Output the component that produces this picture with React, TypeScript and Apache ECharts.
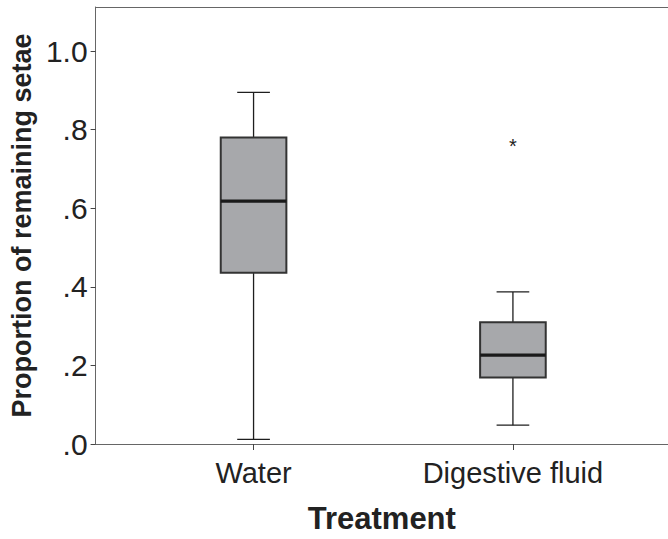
import React, { useEffect, useRef } from "react";
import * as echarts from "echarts";

const categories = ["Water", "Digestive fluid"];
const categoryPositions = [1, 2];
// [position, lower whisker, Q1, median, Q3, upper whisker]
const boxValues = [
  [1, 0.012, 0.436, 0.618, 0.78, 0.895],
  [2, 0.048, 0.169, 0.226, 0.31, 0.387],
];
const outliers = [[2, 0.765]];
const yTickValues = [0, 0.2, 0.4, 0.6, 0.8, 1.0];
const yTickLabels = [".0", ".2", ".4", ".6", ".8", "1.0"];

const FONT = "'Liberation Sans', Arial, sans-serif";
const X_MIN = 0.391;
const X_MAX = 0.391 + 576 / 261;

export default function App() {
  const ref = useRef<HTMLDivElement>(null);
  useEffect(() => {
    if (!ref.current) return;
    const chart = echarts.init(ref.current, undefined, { renderer: "svg" });
    const boxW = 0.253;
    const capW = 0.126;
    chart.setOption({
      animation: false,
      backgroundColor: "#ffffff",
      grid: {
        left: 92,
        right: 0,
        top: 7,
        bottom: 90,
        show: false,
      },
      xAxis: [
        {
          type: "value",
          min: X_MIN,
          max: X_MAX,
          name: "Treatment",
          nameLocation: "middle",
          nameGap: 59,
          nameTextStyle: { fontFamily: FONT, fontSize: 31, fontWeight: "bold", color: "#222" },
          splitLine: { show: false },
          axisLine: { show: true, lineStyle: { color: "#666", width: 1 } },
          axisTick: { show: true, length: 6, customValues: categoryPositions, lineStyle: { color: "#444" } },
          axisLabel: {
            customValues: categoryPositions,
            formatter: (v: number) => categories[categoryPositions.indexOf(Math.round(v))] ?? "",
            fontFamily: FONT,
            fontSize: 29,
            color: "#222",
            margin: 14,
          },
        },
        {
          type: "value",
          position: "top",
          min: X_MIN,
          max: X_MAX,
          splitLine: { show: false },
          axisLine: { show: true, lineStyle: { color: "#666", width: 1 } },
          axisTick: { show: false },
          axisLabel: { show: false },
        },
      ],
      yAxis: {
        type: "value",
        min: 0,
        max: 1.112,
        name: "Proportion of remaining setae",
        nameLocation: "middle",
        nameGap: 58,
        nameTextStyle: { fontFamily: FONT, fontSize: 27, fontWeight: "bold", color: "#222" },
        splitLine: { show: false },
        axisLine: { show: true, lineStyle: { color: "#666", width: 1 } },
        axisTick: { show: true, length: 5, customValues: yTickValues, lineStyle: { color: "#444" } },
        axisLabel: {
          customValues: yTickValues,
          formatter: (v: number) => {
            const i = yTickValues.findIndex((t) => Math.abs(t - v) < 1e-6);
            return i >= 0 ? yTickLabels[i] : "";
          },
          fontFamily: FONT,
          fontSize: 30,
          color: "#222",
          margin: 8,
          padding: [8, 0, 0, 0],
        },
      },
      series: [
        {
          type: "custom",
          data: boxValues,
          renderItem: (params: any, api: any) => {
            const x = api.value(0);
            const lo = api.coord([x, api.value(1)]);
            const q1 = api.coord([x, api.value(2)]);
            const med = api.coord([x, api.value(3)]);
            const q3 = api.coord([x, api.value(4)]);
            const hi = api.coord([x, api.value(5)]);
            const bw = api.size([boxW, 0])[0];
            const cw = api.size([capW, 0])[0];
            const cx = q1[0];
            const thin = { stroke: "#1e1e1e", lineWidth: 1.3 };
            return {
              type: "group",
              children: [
                { type: "line", shape: { x1: cx, y1: hi[1], x2: cx, y2: q3[1] }, style: thin },
                { type: "line", shape: { x1: cx, y1: q1[1], x2: cx, y2: lo[1] }, style: thin },
                { type: "line", shape: { x1: cx - cw / 2, y1: hi[1], x2: cx + cw / 2, y2: hi[1] }, style: thin },
                { type: "line", shape: { x1: cx - cw / 2, y1: lo[1], x2: cx + cw / 2, y2: lo[1] }, style: thin },
                {
                  type: "rect",
                  shape: { x: cx - bw / 2, y: q3[1], width: bw, height: q1[1] - q3[1] },
                  style: { fill: "#a7a8ab", stroke: "#333", lineWidth: 2 },
                },
                {
                  type: "line",
                  shape: { x1: cx - bw / 2, y1: med[1], x2: cx + bw / 2, y2: med[1] },
                  style: { stroke: "#1a1a1a", lineWidth: 3.2 },
                },
              ],
            };
          },
        },
        {
          type: "custom",
          data: outliers,
          renderItem: (params: any, api: any) => {
            const p = api.coord([api.value(0), api.value(1)]);
            return {
              type: "text",
              x: p[0],
              y: p[1] + 3,
              style: {
                text: "*",
                fontFamily: FONT,
                fontSize: 20,
                fill: "#222",
                align: "center",
                verticalAlign: "middle",
              },
            };
          },
        },
      ],
    });
    return () => chart.dispose();
  }, []);
  return <div ref={ref} style={{ width: 668, height: 539, position: "absolute", left: 0, top: 0, overflow: "hidden" }} />;
}
